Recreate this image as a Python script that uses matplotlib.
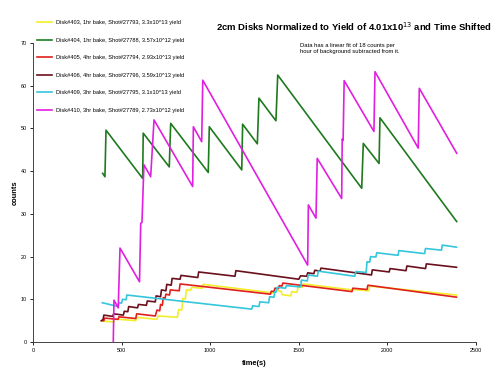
import matplotlib.pyplot as plt

# data (time in s, counts)
yellow_x = [390, 455, 460, 580, 585, 700, 705, 815, 822, 840, 845, 860, 865, 890, 895, 955, 960,
            1355, 1362, 1400, 1405, 1455, 1460, 1490, 1495, 1520, 1525, 1800, 1805, 1895, 1900, 2390]
yellow_y = [4.9, 4.7, 5.4, 5.0, 5.8, 5.3, 6.1, 5.8, 7.6, 7.5, 10.2, 10.1, 12.2, 12.1, 12.8, 12.6, 13.5,
            11.5, 12.1, 11.9, 11.1, 10.8, 11.8, 11.6, 12.9, 12.8, 13.6, 12.2, 12.3, 12.0, 13.1, 11.0]

green_x = [393, 406, 412, 619, 622, 769, 777, 989, 995, 1178, 1183, 1266, 1275, 1371, 1381,
           1855, 1864, 1953, 1958, 2391]
green_y = [39.5, 38.7, 49.6, 38.3, 48.9, 41.0, 51.2, 39.7, 50.4, 40.3, 51.0, 46.4, 57.1, 51.8, 62.5,
           36.0, 46.5, 41.8, 52.5, 28.2]

red_x = [390, 400, 405, 480, 485, 580, 585, 690, 700, 715, 720, 730, 735, 745, 750, 770, 775, 825, 830,
         1340, 1345, 1360, 1365, 1385, 1390, 1405, 1410, 1800, 1805, 1885, 1890, 2390]
red_y = [5.0, 5.0, 5.6, 5.3, 5.9, 5.5, 6.6, 6.1, 7.5, 7.3, 8.8, 8.6, 10.4, 10.2, 11.2, 11.0, 12.2, 12.0, 13.6,
         11.2, 11.9, 11.8, 12.6, 12.5, 13.2, 13.1, 13.8, 11.8, 12.6, 12.3, 13.3, 10.5]

maroon_x = [385, 395, 400, 450, 455, 510, 515, 535, 540, 590, 595, 640, 645, 690, 695, 720, 725, 750, 755,
            780, 785, 830, 835, 930, 935, 1140, 1145, 1500, 1510, 1545, 1550, 1585, 1590, 1620, 1625,
            1910, 1915, 2010, 2015, 2105, 2110, 2215, 2220, 2390]
maroon_y = [5.0, 5.2, 6.3, 6.0, 6.6, 6.3, 7.2, 7.1, 8.3, 8.0, 8.8, 8.6, 9.6, 9.4, 10.8, 10.6, 12.2, 12.0, 13.5,
            13.3, 14.9, 14.7, 15.6, 15.1, 16.4, 15.4, 16.7, 14.7, 15.5, 15.4, 16.2, 16.0, 16.8, 16.6, 17.3,
            15.7, 16.9, 16.4, 17.2, 16.7, 17.8, 17.2, 18.3, 17.5]

cyan_x = [391, 480, 485, 500, 505, 525, 530, 1234, 1240, 1275, 1280, 1330, 1335, 1360, 1365, 1372, 1378,
          1425, 1430, 1510, 1515, 1548, 1553, 1605, 1610, 1815, 1822, 1880, 1885, 1900, 1905, 1935, 1940,
          2060, 2065, 2210, 2215, 2305, 2310, 2390]
cyan_y = [9.2, 8.3, 9.2, 9.1, 10.0, 9.9, 11.0, 7.7, 8.5, 8.3, 9.4, 9.2, 10.6, 10.5, 11.8, 11.7, 12.8,
          12.6, 13.2, 12.9, 14.5, 14.3, 15.7, 15.4, 16.6, 15.4, 16.5, 16.3, 18.8, 18.7, 20.0, 19.9, 20.9,
          20.3, 21.4, 20.7, 21.9, 21.5, 22.7, 22.2]

magenta_x = [453, 457, 481, 491, 601, 608, 615, 626, 664, 683, 901, 905, 952, 958, 1550, 1554, 1597, 1604,
             1742, 1745, 1750, 1756, 1924, 1930, 2174, 2180, 2391]
magenta_y = [0.0, 9.8, 8.0, 22.0, 14.1, 27.8, 28.0, 41.5, 38.7, 52.0, 36.4, 50.4, 46.9, 61.3, 18.0, 32.1, 29.0, 43.0,
             33.6, 47.5, 47.2, 61.2, 49.3, 63.3, 45.4, 59.4, 44.2]

labels = ["Disk#403, 1hr bake, Shot#27793, 3.3x10^13 yield",
          "Disk#404, 1hr bake, Shot#27788, 3.57x10^12 yield",
          "Disk#405, 4hr bake, Shot#27794, 2.93x10^13 yield",
          "Disk#406, 4hr bake, Shot#27796, 3.59x10^13 yield",
          "Disk#409, 3hr bake, Shot#27795, 3.1x10^13 yield",
          "Disk#410, 3hr bake, Shot#27789, 2.73x10^12 yield"]
colors = ["#f2ee2a", "#1f7a1f", "#e0201c", "#6a0f1c", "#33c6dc", "#e020e0"]

plt.rcParams['font.family'] = ['Liberation Sans', 'DejaVu Sans']

fig = plt.figure(figsize=(5, 3.77), dpi=100)
ax = fig.add_axes([0.066, 0.0928, 0.886, 0.793])

series = [(yellow_x, yellow_y), (green_x, green_y), (red_x, red_y),
          (maroon_x, maroon_y), (cyan_x, cyan_y), (magenta_x, magenta_y)]
for (xs, ys), c, lab in zip(series, colors, labels):
    ax.plot(xs, ys, color=c, lw=1.2, label=lab)

ax.set_xlim(0, 2500)
ax.set_ylim(0, 70)
ax.set_xticks(range(0, 2501, 500))
ax.set_yticks(range(0, 71, 10))
ax.tick_params(labelsize=3.9, length=2.5, width=0.6, pad=2)
for s in ["top", "right"]:
    ax.spines[s].set_visible(False)
for s in ["left", "bottom"]:
    ax.spines[s].set_linewidth(0.7)
    ax.spines[s].set_color("#444444")

ax.set_xlabel("time(s)", fontsize=5.4, fontweight="bold", labelpad=5)
ax.set_ylabel("counts", fontsize=5.4, fontweight="bold", labelpad=1)

fig.text(0.707, 0.928, "2cm Disks Normalized to Yield of 4.01x10$^{13}$ and Time Shifted",
         ha="center", va="center", fontsize=6.8, fontweight="bold")
fig.text(0.6, 0.872, "Data has a linear fit of 18 counts per\nhour of background subtracted from it.",
         ha="left", va="center", fontsize=4.2, linespacing=1.15)

fig.legend(loc="upper left", bbox_to_anchor=(0.07, 0.953), frameon=False, fontsize=4.1,
           handlelength=2.6, labelspacing=2.2, handletextpad=0.6, borderaxespad=0)

fig.savefig("out.png", dpi=100)
